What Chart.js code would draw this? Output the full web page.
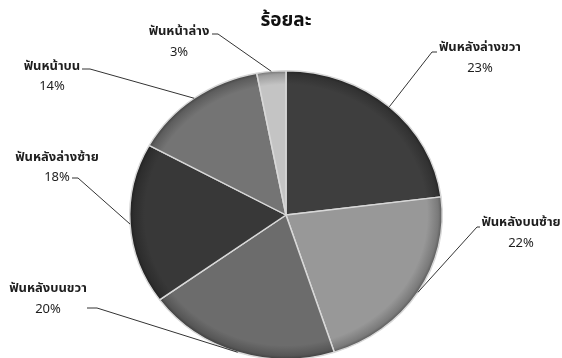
<!DOCTYPE html>
<html>
<head>
<meta charset="utf-8">
<script src="https://cdn.jsdelivr.net/npm/chart.js@4"></script>
<style>
html,body{margin:0;padding:0;background:#fff;overflow:hidden;width:562px;height:358px;}
#wrap{position:absolute;left:0;top:0;width:562px;height:430px;}
</style>
</head>
<body>
<div id="wrap"><canvas id="c" width="562" height="430"></canvas></div>
<script>
const titleText = 'ร้อยละ';
const categories = ['ฟันหลังล่างขวา','ฟันหลังบนซ้าย','ฟันหลังบนขวา','ฟันหลังล่างซ้าย','ฟันหน้าบน','ฟันหน้าล่าง'];
const percentValues = [23, 22, 20, 18, 14, 3];
const percentLabels = ['23%','22%','20%','18%','14%','3%'];

const sliceColors = ['#3e3e3e','#989898','#6c6c6c','#383838','#747474','#c4c4c4'];
// label layout: text centre x, name y, percent y, elbow point, tick end x
const labelLayout = [
  {cx:480, ny:48,  py:69,  ex:432, ey:52,  tx:437},
  {cx:521, ny:223, py:244, ex:477, ey:227, tx:480},
  {cx:48,  ny:289, py:310, ex:97,  ey:308, tx:87},
  {cx:57,  ny:158, py:178, ex:78,  ey:178, tx:72},
  {cx:52,  ny:67,  py:87,  ex:90,  ey:69,  tx:82},
  {cx:179, ny:32,  py:53,  ex:218, ey:34,  tx:212}
];
const FONT = '"Noto Sans Thai","Tahoma","Loma","Garuda","DejaVu Sans","Noto Sans",sans-serif';
const TILT = 145/157; // vertical squash of the pie (perspective look)

function shade(hex, f){
  const n=parseInt(hex.slice(1),16);
  let r=(n>>16)&255,g=(n>>8)&255,b=n&255;
  r=Math.round(r*f);g=Math.round(g*f);b=Math.round(b*f);
  return 'rgb('+r+','+g+','+b+')';
}
function centre(chart){
  const a=chart.chartArea;
  return {cx:(a.left+a.right)/2, cy:(a.top+a.bottom)/2};
}

const tiltPlugin = {
  id:'tilt',
  beforeDatasetsDraw(chart){
    const c=centre(chart), ctx=chart.ctx;
    ctx.save();
    ctx.translate(c.cx,c.cy);
    ctx.scale(1,TILT);
    ctx.translate(-c.cx,-c.cy);
  },
  afterDatasetsDraw(chart){
    chart.ctx.restore();
  }
};

const labelPlugin = {
  id:'labels',
  afterDatasetsDraw(chart){
    const ctx = chart.ctx;
    const meta = chart.getDatasetMeta(0);
    ctx.save();
    meta.data.forEach((arc,i)=>{
      const p = arc.getProps(['x','y','startAngle','endAngle','outerRadius'],true);
      const mid = (p.startAngle+p.endAngle)/2;
      const sx = p.x + Math.cos(mid)*p.outerRadius;
      const sy = p.y + Math.sin(mid)*p.outerRadius*TILT;
      const L = labelLayout[i];
      ctx.strokeStyle = '#333';
      ctx.lineWidth = 1;
      ctx.beginPath();
      ctx.moveTo(sx,sy);
      ctx.lineTo(L.ex,L.ey);
      ctx.lineTo(L.tx,L.ey);
      ctx.stroke();
      ctx.fillStyle = '#1e1e1e';
      ctx.textAlign = 'center';
      ctx.textBaseline = 'middle';
      ctx.font = 'bold 13px '+FONT;
      ctx.fillText(categories[i], L.cx, L.ny);
      ctx.font = '13px '+FONT;
      ctx.fillText(percentLabels[i], L.cx, L.py);
    });
    ctx.font = 'bold 19px '+FONT;
    ctx.fillStyle = '#111';
    ctx.fillText(titleText, 286, 22);
    ctx.restore();
  }
};

new Chart(document.getElementById('c'), {
  type:'pie',
  data:{
    labels:categories,
    datasets:[{
      data:percentValues,
      backgroundColor(ctx){
        const chart = ctx.chart;
        const a = chart.chartArea;
        if(!a) return sliceColors[ctx.dataIndex];
        const cx=(a.left+a.right)/2, cy=(a.top+a.bottom)/2;
        const r=Math.min(a.right-a.left,a.bottom-a.top)/2;
        const base = sliceColors[ctx.dataIndex];
        const g = chart.ctx.createRadialGradient(cx,cy,0,cx,cy,r);
        g.addColorStop(0, base);
        g.addColorStop(0.9, base);
        g.addColorStop(0.97, shade(base,0.8));
        g.addColorStop(1, shade(base,0.55));
        return g;
      },
      borderColor:'#d8d8d8',
      borderWidth:1.5
    }]
  },
  options:{
    responsive:false,
    animation:false,
    layout:{padding:{top:58,bottom:58,left:129,right:119}},
    plugins:{legend:{display:false},tooltip:{enabled:false},title:{display:false}}
  },
  plugins:[tiltPlugin, labelPlugin]
});
</script>
</body>
</html>
